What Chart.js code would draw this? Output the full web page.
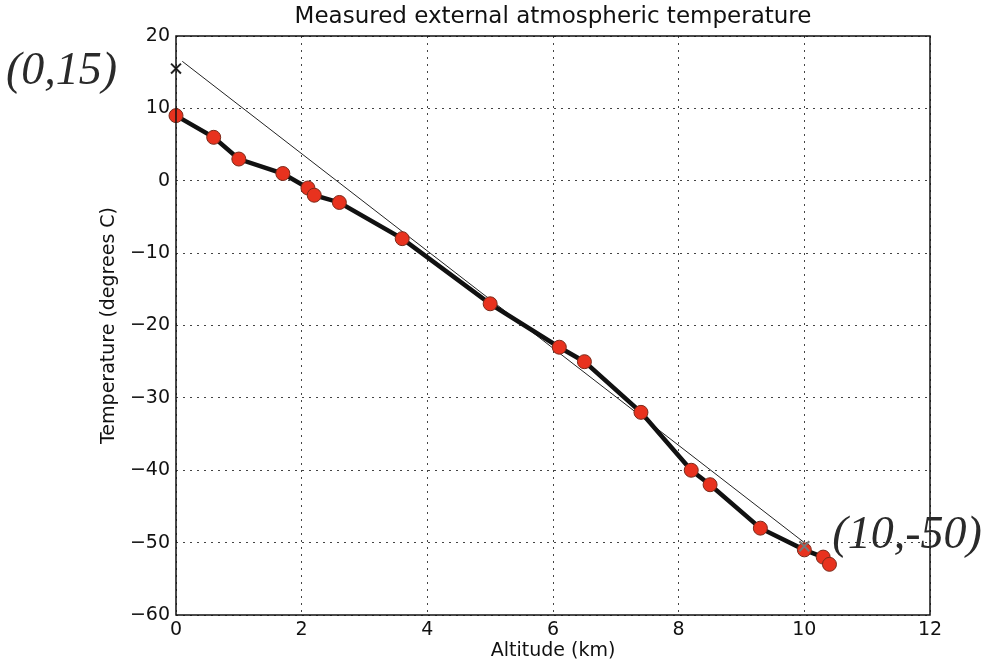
<!DOCTYPE html>
<html>
<head>
<meta charset="utf-8">
<script src="https://cdn.jsdelivr.net/npm/chart.js@4"></script>
<style>
  body { margin: 0; background: #fff; }
  #wrap { width: 997px; height: 664px; }
</style>
</head>
<body>
<div id="wrap"><canvas id="tempChart" width="997" height="664"></canvas></div>
<script>
// measured readings
const altitudeKm = [0, 0.6, 1.0, 1.7, 2.1, 2.2, 2.6, 3.6, 5.0, 6.1, 6.5, 7.4, 8.2, 8.5, 9.3, 10.0, 10.3, 10.4];
const temperatureC = [9, 6, 3, 1, -1, -2, -3, -8, -17, -23, -25, -32, -40, -42, -48, -51, -52, -53];
// hand-drawn straight line and marked points
const fitX = [0.1, 10.0];
const fitY = [16.5, -50];
const markX = [0, 10];
const markY = [15.5, -50.5];
const markLabels = ["(0,15)", "(10,-50)"];
const xTicks = [0, 2, 4, 6, 8, 10, 12];
const yTicks = [-60, -50, -40, -30, -20, -10, 0, 10, 20];

const toPoints = (xs, ys) => xs.map((x, i) => ({ x: x, y: ys[i] }));

// title, frame and handwritten notes
const extras = {
  id: 'extras',
  afterDraw(chart) {
    const { ctx, chartArea: a, scales } = chart;
    ctx.save();
    ctx.strokeStyle = '#111';
    ctx.lineWidth = 1.5;
    ctx.strokeRect(a.left, a.top, a.right - a.left, a.bottom - a.top);
    ctx.fillStyle = '#111';
    ctx.font = '23px "DejaVu Sans"';
    ctx.textAlign = 'center';
    ctx.textBaseline = 'middle';
    ctx.fillText('Measured external atmospheric temperature', (a.left + a.right) / 2, 17);
    ctx.font = 'italic 46px "Liberation Serif"';
    ctx.fillStyle = '#2a2a2a';
    ctx.textAlign = 'left';
    ctx.fillText(markLabels[0], 6, 72);
    ctx.fillText(markLabels[1], scales.x.getPixelForValue(markX[1]) + 28, scales.y.getPixelForValue(markY[1]) - 10);
    ctx.restore();
  }
};

const minus = v => String(v).replace('-', '\u2212');
const tickFont = { family: 'DejaVu Sans', size: 19 };

new Chart(document.getElementById('tempChart').getContext('2d'), {
  type: 'scatter',
  data: {
    datasets: [
      {
        label: 'fit',
        data: toPoints(fitX, fitY),
        showLine: true,
        borderColor: '#222',
        borderWidth: 1,
        pointRadius: 0,
        order: 2
      },
      {
        label: 'measured',
        data: toPoints(altitudeKm, temperatureC),
        showLine: true,
        borderColor: '#111',
        borderWidth: 4.5,
        pointRadius: 7,
        pointBackgroundColor: '#e8321e',
        pointBorderColor: '#7a2a1a',
        pointBorderWidth: 1,
        order: 1
      },
      {
        label: 'marks',
        data: toPoints(markX, markY),
        pointStyle: 'crossRot',
        pointRadius: 7,
        borderColor: ['#222', '#777'],
        borderWidth: 2,
        order: 0
      }
    ]
  },
  options: {
    responsive: false,
    animation: false,
    clip: false,
    layout: { padding: { top: 36, right: 67, left: 96, bottom: 0 } },
    plugins: { legend: { display: false }, tooltip: { enabled: false } },
    scales: {
      x: {
        type: 'linear',
        min: 0, max: 12,
        afterBuildTicks: s => { s.ticks = xTicks.map(v => ({ value: v })); },
        afterFit: s => { s.height = 49; },
        grid: { color: '#444', lineWidth: 1, drawTicks: false },
        border: { display: false, dash: [2, 5] },
        ticks: { color: '#111', font: tickFont, padding: 4, callback: minus },
        title: { display: true, text: 'Altitude (km)', color: '#111', font: tickFont, padding: 2 }
      },
      y: {
        min: -60, max: 20,
        afterBuildTicks: s => { s.ticks = yTicks.map(v => ({ value: v })); },
        afterFit: s => { s.width = 80; },
        grid: { color: '#444', lineWidth: 1, drawTicks: false },
        border: { display: false, dash: [2, 5] },
        ticks: { color: '#111', font: tickFont, padding: 6, callback: minus },
        title: { display: true, text: 'Temperature (degrees C)', color: '#111', font: tickFont, padding: 2 }
      }
    }
  },
  plugins: [extras]
});
</script>
</body>
</html>
